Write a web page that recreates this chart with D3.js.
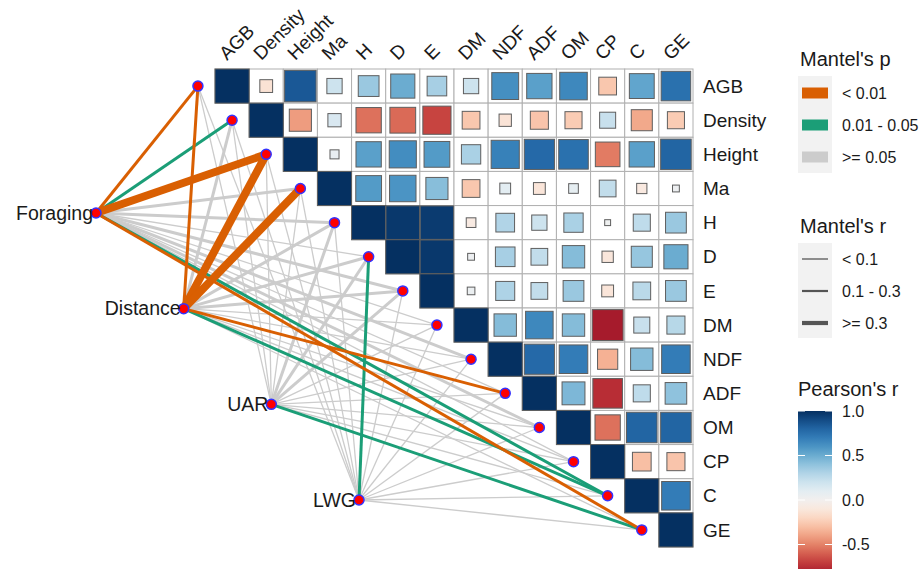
<!DOCTYPE html>
<html>
<head>
<meta charset="utf-8">
<script src="https://cdn.jsdelivr.net/npm/d3@7"></script>
<style>
  body { margin: 0; background: #fff; }
  text { font-family: "Liberation Sans", Arial, sans-serif; fill: #1a1a1a; }
</style>
</head>
<body>
<svg id="chart" width="922" height="569"></svg>
<script>
// Environmental / forage variables shown in the correlation matrix
const variables = ["AGB", "Density", "Height", "Ma", "H", "D", "E", "DM", "NDF", "ADF", "OM", "CP", "C", "GE"];

// Pearson's r, upper triangle: row i holds r(variables[i], variables[j]) for j > i
const corrUpper = [
  [-0.14, 0.85, 0.20, 0.37, 0.50, 0.33, 0.20, 0.62, 0.55, 0.65, -0.27, 0.53, 0.75],
  [-0.42, 0.15, -0.55, -0.57, -0.68, -0.27, -0.13, -0.28, -0.25, 0.22, -0.38, -0.25],
  [0.07, 0.55, 0.63, 0.57, 0.32, 0.68, 0.78, 0.75, -0.52, 0.55, 0.80],
  [0.57, 0.60, 0.42, -0.27, 0.10, -0.12, 0.08, 0.24, -0.09, 0.04],
  [0.97, 0.96, -0.08, 0.30, 0.20, 0.32, 0.03, 0.25, 0.37],
  [0.97, 0.04, 0.33, 0.24, 0.43, -0.11, 0.38, 0.50],
  [0.05, 0.31, 0.24, 0.37, -0.12, 0.27, 0.37],
  [0.43, 0.65, 0.43, -0.82, 0.22, 0.28],
  [0.78, 0.70, -0.35, 0.43, 0.70],
  [0.45, -0.75, 0.25, 0.40],
  [-0.55, 0.80, 0.80],
  [-0.30, -0.28],
  [0.70]
];

// Behaviour / performance responses tested with Mantel tests
const specs = ["Foraging", "Distance", "UAR", "LWG"];

// Mantel's r and p of each response against each variable (same order as `variables`)
const rForaging = [0.22, 0.20, 0.41, 0.15, 0.12, 0.08, 0.11, 0.06, 0.13, 0.07, 0.12, 0.05, 0.18, 0.21];
const pForaging = [0.003, 0.024, 0.001, 0.082, 0.110, 0.210, 0.140, 0.350, 0.090, 0.290, 0.120, 0.410, 0.031, 0.006];
const rDistance = [0.24, 0.11, 0.46, 0.36, 0.12, 0.12, 0.11, 0.05, 0.07, 0.19, 0.06, 0.04, 0.16, 0.08];
const pDistance = [0.002, 0.100, 0.001, 0.001, 0.230, 0.130, 0.160, 0.440, 0.300, 0.004, 0.370, 0.520, 0.028, 0.190];
const rUAR      = [0.06, 0.09, 0.05, 0.07, 0.11, 0.10, 0.11, 0.04, 0.05, 0.07, 0.04, 0.08, 0.06, 0.17];
const pUAR      = [0.420, 0.310, 0.560, 0.380, 0.150, 0.190, 0.170, 0.610, 0.480, 0.350, 0.640, 0.330, 0.440, 0.037];
const rLWG      = [0.05, 0.07, 0.04, 0.06, 0.08, 0.19, 0.07, 0.05, 0.04, 0.06, 0.05, 0.07, 0.04, 0.06];
const pLWG      = [0.510, 0.390, 0.620, 0.450, 0.270, 0.018, 0.330, 0.570, 0.660, 0.470, 0.590, 0.410, 0.630, 0.520];

// Legend labels
const pLabels = ["< 0.01", "0.01 - 0.05", ">= 0.05"];
const rLabels = ["< 0.1", "0.1 - 0.3", ">= 0.3"];
const colorTicks = [1.0, 0.5, 0.0, -0.5];

const mantelR = [rForaging, rDistance, rUAR, rLWG];
const mantelP = [pForaging, pDistance, pUAR, pLWG];

const svg = d3.select("#chart");
svg.append("rect").attr("width", 922).attr("height", 569).attr("fill", "#fff");

// ---- correlation matrix ----
const x = d3.scaleBand().domain(variables).range([215, 693]);
const y = d3.scaleBand().domain(variables).range([69, 547]);
const cell = x.bandwidth();
const fill = v => d3.interpolateRdBu((v + 1) / 2);

const cells = [];
variables.forEach((a, i) => {
  cells.push({ row: a, col: a, r: 1 });
  variables.slice(i + 1).forEach((b, k) => cells.push({ row: a, col: b, r: corrUpper[i][k] }));
});

const gMat = svg.append("g");
gMat.selectAll("rect.cell").data(cells).join("rect")
  .attr("class", "cell")
  .attr("x", d => x(d.col)).attr("y", d => y(d.row))
  .attr("width", cell).attr("height", cell)
  .attr("fill", "#fff").attr("stroke", "#b0b0b0").attr("stroke-width", 1);

gMat.selectAll("rect.sq").data(cells).join("rect")
  .attr("class", "sq")
  .each(function (d) {
    const s = cell * Math.sqrt(Math.abs(d.r));
    d3.select(this)
      .attr("x", x(d.col) + (cell - s) / 2).attr("y", y(d.row) + (cell - s) / 2)
      .attr("width", s).attr("height", s);
  })
  .attr("fill", d => fill(d.r))
  .attr("stroke", "#5e5e5e").attr("stroke-width", 1);

// column labels (rotated) and row labels
svg.append("g").selectAll("text").data(variables).join("text")
  .attr("transform", d => `translate(${x(d) + cell / 2 - 5},${61}) rotate(-45)`)
  .attr("font-size", 19)
  .text(d => d);

svg.append("g").selectAll("text").data(variables).join("text")
  .attr("x", 703).attr("y", d => y(d) + cell / 2)
  .attr("dy", "0.35em")
  .attr("font-size", 19)
  .text(d => d);

// ---- Mantel links ----
const targetPos = v => [x(v) - cell / 2, y(v) + cell / 2];
const srcX = d3.scaleLinear().domain([0, specs.length - 1]).range([96, 359]);
const srcY = d3.scaleLinear().domain([0, specs.length - 1]).range([213, 500]);

const pClass = p => p < 0.01 ? 0 : (p < 0.05 ? 1 : 2);
const rClass = r => r < 0.1 ? 0 : (r < 0.3 ? 1 : 2);
const pColor = d3.scaleOrdinal().domain([0, 1, 2]).range(["#D95F02", "#1B9E77", "#CCCCCC"]);
const rWidth = d3.scaleOrdinal().domain([0, 1, 2]).range([1.3, 3, 8]);

const links = [];
specs.forEach((s, si) => {
  variables.forEach((v, vi) => {
    links.push({ spec: s, si, env: v, r: mantelR[si][vi], p: mantelP[si][vi] });
  });
});
links.sort((a, b) => pClass(b.p) - pClass(a.p));

svg.append("g").selectAll("line").data(links).join("line")
  .attr("x1", d => srcX(d.si)).attr("y1", d => srcY(d.si))
  .attr("x2", d => targetPos(d.env)[0]).attr("y2", d => targetPos(d.env)[1])
  .attr("stroke", d => pColor(pClass(d.p)))
  .attr("stroke-width", d => rWidth(rClass(d.r)))
  .attr("stroke-linecap", "butt");

// nodes
const nodeG = svg.append("g");
nodeG.selectAll("circle.t").data(variables).join("circle")
  .attr("class", "t")
  .attr("cx", d => targetPos(d)[0]).attr("cy", d => targetPos(d)[1])
  .attr("r", 5).attr("fill", "#FF0000").attr("stroke", "#3333FF").attr("stroke-width", 1.5);
nodeG.selectAll("circle.s").data(specs).join("circle")
  .attr("class", "s")
  .attr("cx", (d, i) => srcX(i)).attr("cy", (d, i) => srcY(i))
  .attr("r", 5).attr("fill", "#FF0000").attr("stroke", "#3333FF").attr("stroke-width", 1.5);

svg.append("g").selectAll("text").data(specs).join("text")
  .attr("x", (d, i) => srcX(i) - 3).attr("y", (d, i) => srcY(i))
  .attr("dy", "0.35em").attr("text-anchor", "end")
  .attr("font-size", 19.5)
  .text(d => d);

// ---- legends ----
const lg = svg.append("g");
const keyX = 798, keyW = 34, labX = 842;

// Mantel's p
lg.append("text").attr("x", 800).attr("y", 66).attr("font-size", 20).text("Mantel's p");
lg.append("rect").attr("x", keyX).attr("y", 76).attr("width", keyW).attr("height", 97).attr("fill", "#F2F2F2");
pLabels.forEach((lab, i) => {
  const cy = 93 + i * 32;
  lg.append("rect").attr("x", keyX + 4).attr("y", cy - 5.5).attr("width", 26).attr("height", 11)
    .attr("fill", pColor(i));
  lg.append("text").attr("x", labX).attr("y", cy).attr("dy", "0.35em").attr("font-size", 16).text(lab);
});

// Mantel's r
lg.append("text").attr("x", 800).attr("y", 233).attr("font-size", 20).text("Mantel's r");
lg.append("rect").attr("x", keyX).attr("y", 243).attr("width", keyW).attr("height", 95).attr("fill", "#F2F2F2");
const legendWidths = [1.3, 2.2, 4.2];
rLabels.forEach((lab, i) => {
  const cy = 259 + i * 32;
  lg.append("line").attr("x1", keyX + 4).attr("x2", keyX + 30).attr("y1", cy).attr("y2", cy)
    .attr("stroke", "#555").attr("stroke-width", legendWidths[i]);
  lg.append("text").attr("x", labX).attr("y", cy).attr("dy", "0.35em").attr("font-size", 16).text(lab);
});

// Pearson's r colour bar
lg.append("text").attr("x", 798).attr("y", 396).attr("font-size", 20).text("Pearson's r");
const cb = d3.scaleLinear().domain([1, -1]).range([411, 589]);
const grad = svg.append("defs").append("linearGradient").attr("id", "rdbu")
  .attr("x1", 0).attr("y1", 0).attr("x2", 0).attr("y2", 1);
d3.range(0, 1.0001, 0.05).forEach(t => {
  grad.append("stop").attr("offset", t).attr("stop-color", fill(1 - 2 * t));
});
lg.append("rect").attr("x", keyX).attr("y", cb(1)).attr("width", keyW).attr("height", cb(-1) - cb(1))
  .attr("fill", "url(#rdbu)");
colorTicks.forEach(v => {
  const ty = cb(v);
  lg.append("line").attr("x1", keyX).attr("x2", keyX + 7).attr("y1", ty).attr("y2", ty)
    .attr("stroke", "#fff").attr("stroke-width", 1);
  lg.append("line").attr("x1", keyX + keyW - 7).attr("x2", keyX + keyW).attr("y1", ty).attr("y2", ty)
    .attr("stroke", "#fff").attr("stroke-width", 1);
  lg.append("text").attr("x", labX).attr("y", ty).attr("dy", "0.35em").attr("font-size", 16)
    .text(v.toFixed(1));
});
</script>
</body>
</html>
